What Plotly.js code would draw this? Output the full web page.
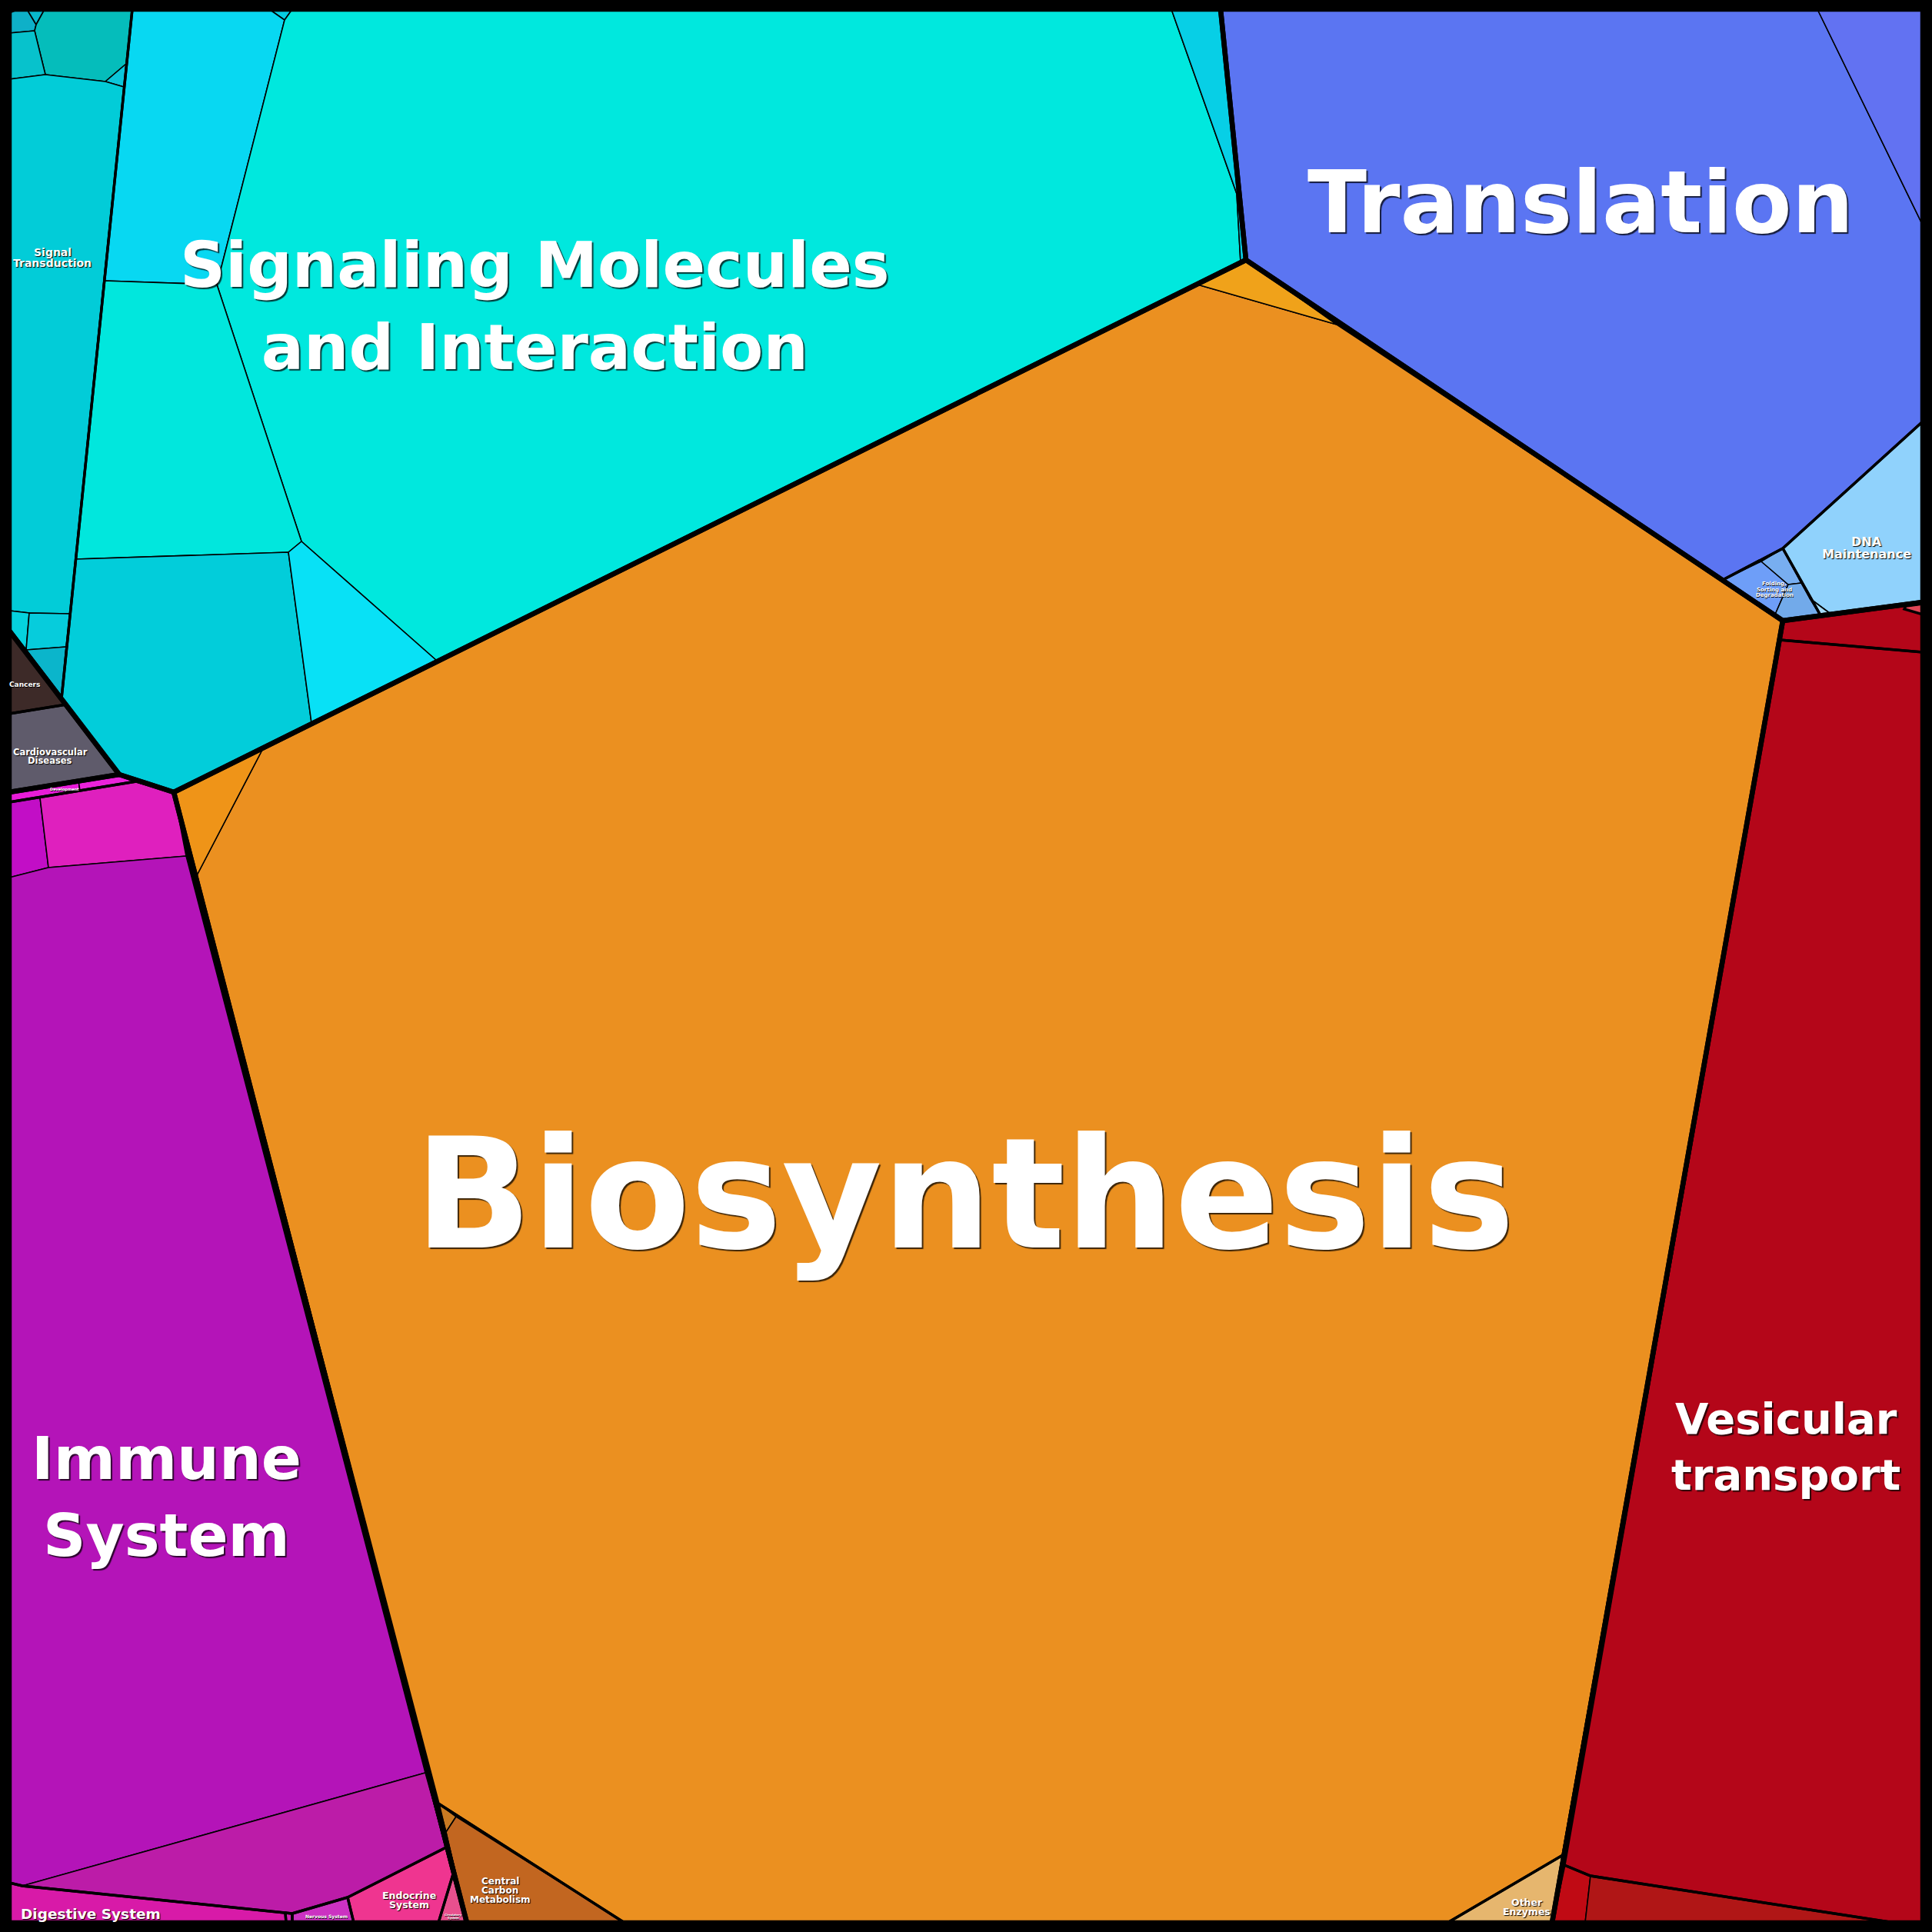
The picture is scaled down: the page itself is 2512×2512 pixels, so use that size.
<!DOCTYPE html>
<html><head><meta charset="utf-8">
<script src="https://cdn.plot.ly/plotly-3.0.1.min.js"></script>
<style>html,body{margin:0;padding:0;background:#000;}#chart{width:2512px;height:2512px;}</style>
</head><body><div id="chart"></div>
<script>
// ---------------- DATA: Voronoi treemap cells (vertices in chart units) ----------------
const level1Names = ["Environmental Information Processing","Human Diseases","Organismal Systems","Metabolism","Genetic Information Processing","Cellular Processes"];
const level1Cells = [
  [[12,12],[1587,12],[1620,338],[226,1030],[155,1007],[12,820]],
  [[12,820],[155,1007],[12,1030]],
  [[12,1030],[155,1007],[226,1030],[607,2500],[12,2500]],
  [[1620,338],[2318,807],[2018,2500],[607,2500],[226,1030]],
  [[1587,12],[2500,12],[2500,783],[2318,807],[1620,338]],
  [[2318,807],[2500,783],[2500,2500],[2018,2500]]
];

const level2Names = ["Signal Transduction","Signaling Molecules and Interaction","Cancers","Cardiovascular Diseases","Development",
  "Immune System","Digestive System","Organismal (unlabeled)","Nervous System","Endocrine System","Circulatory System",
  "Biosynthesis","Central Carbon Metabolism","Other Enzymes","Translation","Folding, Sorting and Degradation","DNA Maintenance",
  "Cellular (unlabeled A)","Vesicular transport","Cellular (unlabeled B)","Cellular (unlabeled C)"];
const level2Parent = [0,0,1,1,2,2,2,2,2,2,2,3,3,3,4,4,4,5,5,5,5];
const level2Cells = [
  [[12,12],[172,12],[80,908],[12,820]],
  [[172,12],[1587,12],[1620,338],[226,1030],[155,1007],[80,908]],
  [[12,820],[86,916],[12,928]],
  [[12,928],[86,916],[155,1007],[12,1030]],
  [[12,1030],[155,1007],[177,1016],[12,1043]],
  [[12,1043],[177,1016],[226,1030],[580,2402],[452,2467],[380,2488],[29,2452],[12,2448]],
  [[12,2448],[29,2452],[371,2487],[372,2500],[12,2500]],
  [[371,2487],[380,2488],[380,2500],[372,2500]],
  [[380,2488],[452,2467],[460,2500],[380,2500]],
  [[452,2467],[580,2402],[589,2437],[570,2500],[460,2500]],
  [[589,2437],[607,2500],[570,2500]],
  [[1620,338],[2318,807],[2032,2412],[1882,2500],[812,2500],[570,2345],[226,1030]],
  [[570,2345],[812,2500],[607,2500]],
  [[1882,2500],[2032,2412],[2018,2500]],
  [[1587,12],[2500,12],[2500,548],[2318,713],[2240,754],[1620,338]],
  [[2240,754],[2318,713],[2367,800],[2318,807]],
  [[2318,713],[2500,548],[2500,783],[2367,800]],
  [[2318,807],[2500,783],[2500,848],[2314,832]],
  [[2314,832],[2500,848],[2500,2500],[2463,2500],[2068,2439],[2034,2425]],
  [[2034,2425],[2068,2439],[2463,2500],[2018,2500]],
  [[2478,788],[2500,785],[2500,799],[2476,792]]
];

const leafParent = [0,0,0,0,0,0,0,0,0,0, 1,1,1,1,1,1,1, 2,3, 4,4,5,5,5,5,6,7,8,9,10, 11,11,11,12,12,13, 14,14,15,15,15,16,16, 17,18,19,19,20];
const leafCells = [
  [[12,12],[25,12],[12,17]],
  [[12,17],[25,12],[35,12],[47,32],[45,40],[12,43]],
  [[35,12],[58,12],[47,32]],
  [[58,12],[172,12],[164,83],[137,106],[59,97],[45,40],[47,32]],
  [[12,43],[45,40],[59,97],[12,103]],
  [[164,83],[161,113],[137,106]],
  [[12,103],[59,97],[137,106],[161,113],[91,798],[38,797],[12,794]],
  [[12,794],[38,797],[34,845],[12,820]],
  [[38,797],[91,798],[86,841],[34,845]],
  [[34,845],[86,841],[80,908]],
  [[350,12],[380,12],[370,26]],
  [[172,12],[350,12],[370,26],[282,370],[135,365]],
  [[380,12],[1523,12],[1608,252],[1613,341],[569,860],[392,704],[282,370],[370,26]],
  [[1523,12],[1587,12],[1620,338],[1613,341],[1608,252]],
  [[135,365],[282,370],[392,704],[375,718],[98,727]],
  [[98,727],[375,718],[405,940],[226,1030],[155,1007],[80,908]],
  [[375,718],[392,704],[569,860],[405,940]],
  [[12,820],[86,916],[12,928]],
  [[12,928],[86,916],[155,1007],[12,1030]],
  [[12,1030],[102,1015],[104,1028],[12,1043]],
  [[102,1015],[155,1007],[177,1016],[104,1028]],
  [[12,1043],[52,1037],[63,1128],[12,1141]],
  [[52,1037],[177,1016],[226,1030],[242,1113],[63,1128]],
  [[12,1141],[63,1128],[242,1113],[553,2305],[29,2452],[12,2448]],
  [[29,2452],[553,2305],[580,2402],[452,2467],[380,2488]],
  [[12,2448],[29,2452],[371,2487],[372,2500],[12,2500]],
  [[371,2487],[380,2488],[380,2500],[372,2500]],
  [[380,2488],[452,2467],[460,2500],[380,2500]],
  [[452,2467],[580,2402],[589,2437],[570,2500],[460,2500]],
  [[589,2437],[607,2500],[570,2500]],
  [[342,973],[1557,370],[1738,422],[2318,807],[2032,2412],[1882,2500],[812,2500],[570,2345],[255,1140]],
  [[1620,338],[1738,422],[1557,370]],
  [[226,1030],[342,973],[255,1140]],
  [[570,2345],[593,2362],[580,2382]],
  [[593,2362],[812,2500],[607,2500],[580,2382]],
  [[1882,2500],[2032,2412],[2018,2500]],
  [[1587,12],[2363,12],[2500,293],[2500,548],[2318,713],[2240,754],[1620,338]],
  [[2363,12],[2500,12],[2500,293]],
  [[2240,754],[2290,730],[2325,760],[2308,799]],
  [[2290,730],[2318,713],[2342,758],[2325,760]],
  [[2325,760],[2342,758],[2367,800],[2318,807],[2308,799]],
  [[2318,713],[2500,548],[2500,783],[2380,798],[2353,778]],
  [[2353,778],[2380,798],[2367,800]],
  [[2318,807],[2500,783],[2500,848],[2314,832]],
  [[2314,832],[2500,848],[2500,2500],[2463,2500],[2068,2439],[2034,2425]],
  [[2034,2425],[2068,2439],[2061,2500],[2018,2500]],
  [[2068,2439],[2463,2500],[2061,2500]],
  [[2478,788],[2500,785],[2500,799],[2476,792]]
];

const labelText = ["Biosynthesis","Translation","Signaling Molecules<br>and Interaction","Vesicular<br>transport","Immune<br>System",
  "DNA","Maintenance","Folding,","Sorting and","Degradation","Signal","Transduction","Cancers","Cardiovascular","Diseases",
  "Development","Digestive System","Nervous System","Endocrine","System","Circulatory","System","Central","Carbon","Metabolism","Other","Enzymes"];

// ---------------- STYLE / LAYOUT ----------------
const leafColor = ["#1BB5C6","#0EB0C8","#08B8CC","#05BDBB","#07C2CC","#0CC6DA","#02CCD8","#05D2DE","#06CCDC","#0BB5CB",
  "#06CDE0","#08D8F2","#00E8DE","#07CFE6","#01E7DD","#02CDDA","#08E1F6",
  "#3D2A28","#5F5B6B",
  "#E81CD8","#EA22DA","#C20EC6","#DF20BE","#B414B8","#BC1CA8","#D81AA8","#D224B4","#CC32C2","#EF3590","#E8508E",
  "#EB9020","#F0A21A","#EF9418","#C87A22","#C26620","#E6B66E",
  "#5B75F2","#6272F2","#6E9EF8","#78AEF0","#72AAEA","#90D2FC","#A6DCF8",
  "#B40619","#B40619","#C00A14","#B01616","#E04656"];
const labelPos = [[1254,1552,200],[2055,263,113],[695,398,82],[2322,1881,56],[216,1946,77],
  [2427,704,16],[2427,720,16],[2307,759,7],[2307,767,7],[2307,774,7],[68,328,14],[68,342,14],[32,890,9],[65,978,11.5],[65,989,11.5],
  [84,1026,5],[118,2488,18.5],[424,2492,6],[532,2464,12.5],[532,2476,12.5],[589,2490,3.5],[589,2494,3.5],[650,2446,12],[650,2458,12],[650,2470,12],[1985,2473,12.5],[1985,2485,12.5]];

function closed(pts, k){ const a = pts.map(p=>p[k]); a.push(pts[0][k]); return a; }
const traces = [];
leafCells.forEach((pts,i)=>{
  traces.push({type:'scatter', mode:'lines', x:closed(pts,0), y:closed(pts,1), fill:'toself',
    fillcolor:leafColor[i], line:{color:'#000', width:1.6}, hoverinfo:'text',
    text: level2Names[leafParent[i]], name: level2Names[leafParent[i]]});
});
level2Cells.forEach((pts,i)=>{
  traces.push({type:'scatter', mode:'lines', x:closed(pts,0), y:closed(pts,1), fill:'none',
    line:{color:'#000', width:3.4}, hoverinfo:'skip', name:level2Names[i]});
});
level1Cells.forEach((pts,i)=>{
  traces.push({type:'scatter', mode:'lines', x:closed(pts,0), y:closed(pts,1), fill:'none',
    line:{color:'#000', width:6.5}, hoverinfo:'skip', name:level1Names[i]});
});

const annotations = labelText.map((t,i)=>{
  const [x,y,s] = labelPos[i];
  const sh = s >= 50 ? '2px 2px 1px rgba(0,0,0,0.75)' : (s >= 10 ? '1px 1px 1px #000' : '0.5px 0.5px 0.5px #000');
  return {x:x, y:y, xref:'x', yref:'y', text:t, showarrow:false, xanchor:'center', yanchor:'middle', align:'center',
    font:{family:'DejaVu Sans', size:s, color:'#fff', weight:'bold', shadow:sh}};
});

const layout = {
  width:2512, height:2512, margin:{l:0,r:0,t:0,b:0,pad:0},
  paper_bgcolor:'#000', plot_bgcolor:'#000', showlegend:false,
  xaxis:{range:[0,2512], visible:false, fixedrange:true},
  yaxis:{range:[2512,0], visible:false, fixedrange:true},
  annotations: annotations,
  shapes:[{type:'rect', xref:'x', yref:'y', x0:6, y0:6, x1:2506, y1:2506, line:{color:'#000', width:12}, fillcolor:'rgba(0,0,0,0)', layer:'above'}]
};
Plotly.newPlot('chart', traces, layout, {staticPlot:true, displayModeBar:false});
</script></body></html>
